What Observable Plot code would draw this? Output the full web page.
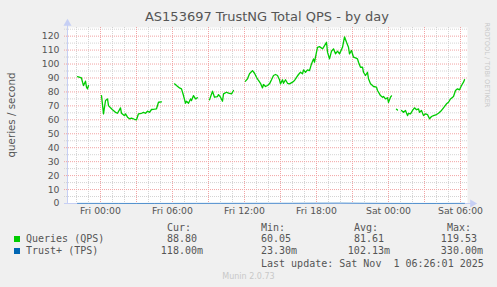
<!DOCTYPE html>
<html>
<head>
<meta charset="utf-8">
<script src="https://cdn.jsdelivr.net/npm/d3@7"></script>
<script src="https://cdn.jsdelivr.net/npm/@observablehq/plot@0.6"></script>
<style>
  html, body { margin: 0; padding: 0; background: #f0f0f0; }
  #wrap { position: relative; width: 497px; height: 287px; background: #f0f0f0; overflow: hidden; font-family: "DejaVu Sans", sans-serif; }
  #wrap svg { position: absolute; left: 0; top: 0; }
  .abs { position: absolute; white-space: pre; }
  .mono { font-family: "DejaVu Sans Mono", monospace; font-size: 10px; line-height: 12px; color: #555; }
</style>
</head>
<body>
<div id="wrap"></div>
<script>
// ---- data ----
const title = "AS153697 TrustNG Total QPS - by day";
const yLabel = "queries / second";
const domainStart = "10-30 21:15";
const domainEnd = "11-01 06:35";
const yTop = 126.2;
const yTicks = [0, 10, 20, 30, 40, 50, 60, 70, 80, 90, 100, 110, 120];
const xTicks = ["10-31 00:00", "10-31 06:00", "10-31 12:00", "10-31 18:00", "11-01 00:00", "11-01 06:00"];

// Queries (QPS); null marks a gap in the data
const qpsTimes = [
  "10-30 22:05","10-30 22:25","10-30 22:30","10-30 22:35","10-30 22:45","10-30 22:50","10-30 22:55","10-30 23:00",
  "10-30 23:30",
  "10-31 00:05","10-31 00:15","10-31 00:25","10-31 00:35","10-31 00:40","10-31 00:50","10-31 01:00","10-31 01:15",
  "10-31 01:25","10-31 01:40","10-31 01:45","10-31 02:00","10-31 02:05","10-31 02:15","10-31 02:25","10-31 02:35",
  "10-31 02:50","10-31 03:00","10-31 03:10","10-31 03:25","10-31 03:35","10-31 03:45","10-31 03:55","10-31 04:05",
  "10-31 04:15","10-31 04:30","10-31 04:40","10-31 04:50","10-31 05:05",
  "10-31 05:30",
  "10-31 06:10","10-31 06:20","10-31 06:35","10-31 06:45","10-31 06:55","10-31 07:05","10-31 07:10","10-31 07:20",
  "10-31 07:30","10-31 07:35","10-31 07:45","10-31 07:55","10-31 08:05",
  "10-31 08:30",
  "10-31 09:05","10-31 09:20","10-31 09:30","10-31 09:45","10-31 09:50","10-31 10:00","10-31 10:10","10-31 10:15",
  "10-31 10:30","10-31 10:40","10-31 10:55","10-31 11:05",
  "10-31 11:30",
  "10-31 12:05","10-31 12:15","10-31 12:25","10-31 12:40","10-31 12:50","10-31 13:00","10-31 13:10","10-31 13:20",
  "10-31 13:30","10-31 13:35","10-31 13:45","10-31 13:55","10-31 14:05","10-31 14:15","10-31 14:25","10-31 14:35",
  "10-31 14:45","10-31 14:55","10-31 15:00","10-31 15:10","10-31 15:15","10-31 15:25","10-31 15:35","10-31 15:45",
  "10-31 16:00","10-31 16:10","10-31 16:20","10-31 16:30","10-31 16:40","10-31 16:50","10-31 16:55","10-31 17:05",
  "10-31 17:15","10-31 17:25","10-31 17:35","10-31 17:45","10-31 17:50","10-31 18:00","10-31 18:05","10-31 18:15",
  "10-31 18:30","10-31 18:35","10-31 18:50","10-31 18:55","10-31 19:05","10-31 19:15","10-31 19:25","10-31 19:35",
  "10-31 19:45","10-31 19:55","10-31 20:10","10-31 20:20","10-31 20:30","10-31 20:40","10-31 20:45","10-31 20:55",
  "10-31 21:05","10-31 21:15","10-31 21:25","10-31 21:30","10-31 21:40","10-31 21:50","10-31 21:55","10-31 22:05",
  "10-31 22:15","10-31 22:20","10-31 22:30","10-31 22:40","10-31 22:45","10-31 23:00","10-31 23:05","10-31 23:15",
  "10-31 23:20","10-31 23:30","10-31 23:35","10-31 23:45","10-31 23:55","11-01 00:00","11-01 00:10","11-01 00:15",
  "11-01 00:30",
  "11-01 00:40","11-01 00:45",
  "11-01 00:55",
  "11-01 01:05","11-01 01:15","11-01 01:25","11-01 01:35","11-01 01:40","11-01 01:50","11-01 02:00","11-01 02:10",
  "11-01 02:20","11-01 02:30","11-01 02:35","11-01 02:45","11-01 02:55","11-01 03:05","11-01 03:15","11-01 03:25",
  "11-01 03:35","11-01 03:45","11-01 04:00","11-01 04:10","11-01 04:25","11-01 04:35","11-01 04:50","11-01 05:00",
  "11-01 05:10","11-01 05:25","11-01 05:35","11-01 05:45","11-01 05:55","11-01 06:05","11-01 06:15","11-01 06:20"
];
const qpsValues = [
  91, 90, 87, 84.6, 87.7, 83.4, 82.2, 84.6,
  null,
  77.4, 64.3, 73.8, 75, 70.2, 68.6, 67.2, 65.4,
  64.7, 68.6, 64.7, 63, 64.3, 61.9, 60.7, 61.2,
  60.4, 60.05, 64.3, 64.7, 65.4, 64.7, 66.2, 65.4,
  67.4, 67.6, 67.9, 72.6, 72.9,
  null,
  85.8, 84.6, 82.9, 82.2, 77.4, 71.9, 73.3, 71.9,
  75, 73.8, 77.4, 75, 75.8,
  null,
  74.3, 80.5, 76.2, 76.7, 78.1, 76.2, 73.3, 78.6,
  79.8, 79.1, 78.6, 81,
  null,
  87.7, 89.4, 93, 95.3, 93.4, 90.5, 88.2, 86.2,
  82.9, 85.3, 83.9, 84.6, 85.8, 88.7, 91.8, 92.5,
  91.8, 88.7, 85.8, 88.7, 86.2, 88.7, 86.2, 85.8,
  87, 88.2, 90.5, 92.5, 94.1, 93, 95.8, 94.1,
  95.8, 95.3, 100.1, 103.7, 101.3, 108.5, 112, 112.5,
  110.9, 112, 115.6, 108.5, 103.7, 109.2, 110.9, 107.3,
  109.2, 107.3, 112, 119.53, 115.6, 112, 107.3, 109.7,
  104.9, 104.4, 103.7, 101.3, 97.7, 97.7, 94.1, 91.8,
  94.1, 89.4, 85.8, 84.6, 83.9, 83.4, 81, 78.6,
  77.4, 76.2, 76.7, 75, 75.8, 72.6, 76.2, 77.2,
  null,
  67.6, 67,
  null,
  66.7, 65.4, 66.7, 63, 64.7, 64.3, 66.7, 68.6,
  67.2, 67.9, 65.4, 66.7, 63, 64.3, 63.8, 60.7,
  62.4, 63, 63.8, 64.7, 66.7, 68.6, 71.5, 72.6,
  75, 76.7, 81, 82.2, 81.5, 84.6, 87, 88.8
];

// Trust+ (TPS): tiny values hugging the zero line
const tpsTimes = [
  "10-30 22:05","10-30 23:00","10-31 00:00","10-31 01:30","10-31 03:00","10-31 04:30","10-31 06:00","10-31 08:00",
  "10-31 10:00","10-31 12:00","10-31 14:00","10-31 16:00","10-31 18:00","10-31 20:00","10-31 22:00","11-01 00:00",
  "11-01 02:00","11-01 04:00","11-01 06:20"
];
const tpsValues = [
  0.09, 0.08, 0.07, 0.05, 0.03, 0.04, 0.06, 0.09,
  0.11, 0.13, 0.15, 0.17, 0.25, 0.33, 0.18, 0.1,
  0.05, 0.0233, 0.118
];

// legend
const seriesNames = ["Queries (QPS)", "Trust+ (TPS)"];
const seriesColors = ["#00cc00", "#0066b3"];
const curVals = [88.80, 0.118];
const minVals = [60.05, 0.0233];
const avgVals = [81.61, 0.10213];
const maxVals = [119.53, 0.330];
const lastUpdate = "Last update: Sat Nov  1 06:26:01 2025";
const footer = "Munin 2.0.73";
const sideText = "RRDTOOL / TOBI OETIKER";

// ---- build ----
const parse = d3.utcParse("%Y-%m-%d %H:%M");
const T = s => parse("2025-" + s);
const qps = qpsTimes.map((t, i) => ({t: T(t), v: qpsValues[i]}));
const tps = tpsTimes.map((t, i) => ({t: T(t), v: tpsValues[i]}));
const x0 = T(domainStart), x1 = T(domainEnd);

const hours = d3.utcHour.range(x0, x1);
const minorX = hours.filter(d => d.getUTCHours() % 3 !== 0);
const majorX = hours.filter(d => d.getUTCHours() % 3 === 0);
const minorY = d3.range(5, yTop, 10);
const majorY = yTicks.filter(d => d > 0);

const axisColor = "#c6cff4";
const plot = Plot.plot({
  width: 497,
  height: 220,
  marginLeft: 67,
  marginRight: 30,
  marginTop: 27,
  marginBottom: 17,
  style: {background: "transparent", fontFamily: "DejaVu Sans", fontSize: "9.3px", color: "#555", overflow: "visible"},
  x: {type: "utc", domain: [x0, x1], ticks: xTicks.map(T), tickFormat: d3.utcFormat("%a %H:%M"), tickSize: 0, tickPadding: 4, label: null},
  y: {domain: [0, yTop], ticks: yTicks, tickSize: 0, tickPadding: 8, label: null},
  marks: [
    Plot.frame({fill: "white", stroke: null}),
    Plot.ruleY(minorY, {stroke: "#d4d4d4", strokeDasharray: "1,1", insetLeft: -3}),
    Plot.ruleX(minorX, {stroke: "#d4d4d4", strokeDasharray: "1,1", insetBottom: -2}),
    Plot.ruleY(majorY, {stroke: "#f2a4a4", strokeDasharray: "1,1", insetLeft: -3}),
    Plot.ruleX(majorX, {stroke: "#f2a4a4", strokeDasharray: "1,1", insetBottom: -2}),
    Plot.ruleX([x0], {stroke: axisColor, insetTop: -3}),
    Plot.ruleY([0], {stroke: axisColor, insetLeft: -3, insetRight: -4}),
    Plot.line(tps, {x: "t", y: "v", stroke: "#0066b3", strokeWidth: 1, strokeOpacity: 0.6}),
    Plot.line(qps, {x: "t", y: "v", stroke: "#00cc00", strokeWidth: 1.3}),
    Plot.dot([0], {frameAnchor: "top-left", symbol: "triangle", r: 3, fill: axisColor, stroke: null, dy: -4}),
    Plot.dot([0], {frameAnchor: "bottom-right", symbol: "triangle", r: 3, fill: axisColor, stroke: null, rotate: 90, dx: 5})
  ]
});

const wrap = document.getElementById("wrap");
wrap.appendChild(plot);

function add(text, css, cls) {
  const d = document.createElement("div");
  d.className = "abs" + (cls ? " " + cls : "");
  d.textContent = text;
  Object.assign(d.style, css);
  wrap.appendChild(d);
  return d;
}

// title
add(title, {left: "67px", width: "400px", top: "9px", textAlign: "center", fontSize: "13px", lineHeight: "15px", color: "#555"});
// y label
add(yLabel, {left: "11px", top: "115px", fontSize: "10.3px", lineHeight: "12px", color: "#555",
  transform: "translate(-50%, -50%) rotate(-90deg)"});
// side text
add(sideText, {left: "487px", top: "65px", fontSize: "6.6px", lineHeight: "8px", color: "#c8c8c8",
  transform: "translate(-50%, -50%) rotate(90deg)"});

// legend
const fmt = v => v >= 1 ? v.toFixed(2) + " " : (v * 1000).toFixed(2) + "m";
const colEdges = [203, 297, 390, 483];
const headers = ["Cur:", "Min:", "Avg:", "Max:"];
headers.forEach((h, j) => add(h, {left: (colEdges[j] - 12 - 60) + "px", width: "60px", textAlign: "right", top: "222px"}, "mono"));
seriesNames.forEach((name, i) => {
  const top = (233 + i * 12.4) + "px";
  add("", {left: "14px", top: (236 + i * 12.4) + "px", width: "6px", height: "6px", background: seriesColors[i]});
  add(name, {left: "26px", top}, "mono");
  [curVals, minVals, avgVals, maxVals].forEach((arr, j) => {
    add(fmt(arr[i]), {left: (colEdges[j] - 80) + "px", width: "80px", textAlign: "right", top}, "mono");
  });
});
add(lastUpdate, {left: "261px", top: "258px"}, "mono");
add(footer, {left: "0px", width: "497px", textAlign: "center", top: "272px", fontSize: "8px", lineHeight: "10px", color: "#c8c8c8"});
</script>
</body>
</html>
